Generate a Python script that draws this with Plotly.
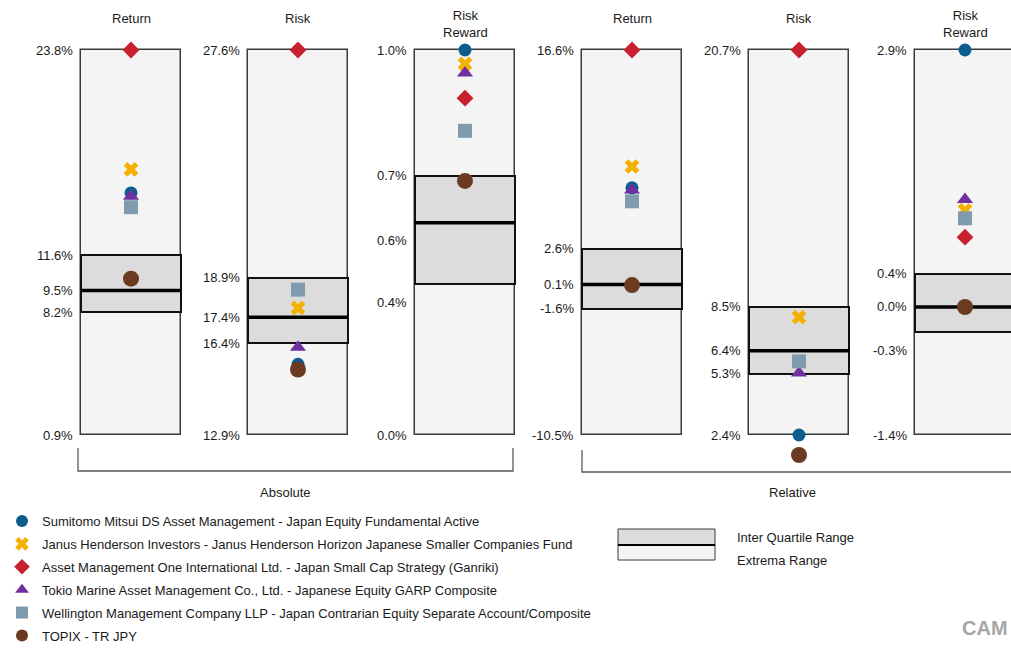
import plotly.graph_objects as go

# ---------------- data ----------------
group_names = ["Absolute", "Relative"]
panel_titles = ["Return", "Risk", "Risk<br>Reward", "Return", "Risk", "Risk<br>Reward"]

box_max = [23.8, 27.6, 1.0, 16.6, 20.7, 2.9]
box_q3 = [11.6, 18.9, 0.673, 2.6, 8.5, 0.4]
box_med = [9.5, 17.4, 0.551, 0.1, 6.4, 0.03]
box_q1 = [8.2, 16.4, 0.392, -1.6, 5.3, -0.25]
box_min = [0.9, 12.9, 0.0, -10.5, 2.4, -1.4]

# tick labels per panel: max, q3, median, q1, min
tick_labels = [
    ["23.8%", "11.6%", "9.5%", "8.2%", "0.9%"],
    ["27.6%", "18.9%", "17.4%", "16.4%", "12.9%"],
    ["1.0%", "0.7%", "0.6%", "0.4%", "0.0%"],
    ["16.6%", "2.6%", "0.1%", "-1.6%", "-10.5%"],
    ["20.7%", "8.5%", "6.4%", "5.3%", "2.4%"],
    ["2.9%", "0.4%", "0.0%", "-0.3%", "-1.4%"],
]

series_names = [
    "Sumitomo Mitsui DS Asset Management - Japan Equity Fundamental Active",
    "Janus Henderson Investors - Janus Henderson Horizon Japanese Smaller Companies Fund",
    "Asset Management One International Ltd. - Japan Small Cap Strategy (Ganriki)",
    "Tokio Marine Asset Management Co., Ltd. - Japanese Equity GARP Composite",
    "Wellington Management Company LLP - Japan Contrarian Equity Separate Account/Composite",
    "TOPIX - TR JPY",
]
sumitomo = [15.3, 15.6, 1.0, 6.9, 2.4, 2.9]
janus = [16.7, 17.75, 0.964, 8.4, 8.0, 1.11]
am_one = [23.8, 27.6, 0.875, 16.6, 20.7, 0.81]
tokio = [15.1, 16.25, 0.94, 6.75, 5.35, 1.23]
wellington = [14.45, 18.45, 0.79, 5.95, 5.9, 1.02]
topix = [10.2, 15.4, 0.66, 0.05, 1.45, 0.03]
series_values = [sumitomo, janus, am_one, tokio, wellington, topix]

# ---------------- styles ----------------
series_styles = [
    dict(symbol="circle", color="#0B5D8F", size=13),
    dict(symbol="x", color="#F5B100", size=13),
    dict(symbol="diamond", color="#C8202F", size=13),
    dict(symbol="triangle-up", color="#7030A0", size=14),
    dict(symbol="square", color="#7F9BAD", size=14),
    dict(symbol="circle", color="#6B3A20", size=16),
]
# vertical nudges (px) for tick labels that sit away from their line
label_shift = [
    [0, 0, 0, 0, 0],
    [0, 0, 0, 0, 0],
    [0, 0, 18, 18, 0],
    [0, 0, 0, 0, 0],
    [0, 0, 0, 0, 0],
    [0, 0, 0, 18, 0],
]

W, H = 1011, 648
FONT = "Liberation Sans, Arial, sans-serif"
TXT = "#1a1a1a"
BOX_TOP, BOX_BOT = 50, 435
DOM_TOP, DOM_BOT = 38, 468
box_lefts = [81, 248, 415, 582, 749, 915]
BOX_W = 100
PAD = 2


def px(p):
    return p / W


def py(p):
    return 1 - p / H


fig = go.Figure()
layout_axes = {}
annotations = []
shapes = []


def label(x, y, text, xanchor="center", size=13, color=TXT, yref="paper", yshift=0):
    return dict(x=x, xref="paper", xanchor=xanchor, y=y, yref=yref, yanchor="middle",
                yshift=yshift, text=text, showarrow=False,
                font=dict(size=size, color=color, family=FONT))


for i in range(6):
    n = i + 1
    xa = "x" if n == 1 else f"x{n}"
    ya = "y" if n == 1 else f"y{n}"
    left = box_lefts[i]
    d0 = left - PAD
    d1 = min(left + BOX_W + PAD, W)
    lo = -0.5 - PAD / BOX_W
    hi = lo + (d1 - d0) / BOX_W
    u = (box_max[i] - box_min[i]) / (BOX_BOT - BOX_TOP)
    yr = [box_min[i] - (DOM_BOT - BOX_BOT) * u, box_max[i] + (BOX_TOP - DOM_TOP) * u]
    layout_axes[f"xaxis{'' if n == 1 else n}"] = dict(
        domain=[px(d0), px(d1)], range=[lo, hi], anchor=ya, visible=False, fixedrange=True)
    layout_axes[f"yaxis{'' if n == 1 else n}"] = dict(
        domain=[py(DOM_BOT), py(DOM_TOP)], range=yr, anchor=xa, visible=False, fixedrange=True)

    # extrema range
    fig.add_trace(go.Bar(x=[0], y=[box_max[i] - box_min[i]], base=[box_min[i]], width=[1],
                         marker=dict(color="#F4F4F4", line=dict(color="#3A3A3A", width=1.5)),
                         xaxis=xa, yaxis=ya, showlegend=False, hoverinfo="skip"))
    # inter quartile range
    fig.add_trace(go.Bar(x=[0], y=[box_q3[i] - box_q1[i]], base=[box_q1[i]], width=[1],
                         marker=dict(color="#DCDCDC", line=dict(color="#111111", width=2)),
                         xaxis=xa, yaxis=ya, showlegend=False, hoverinfo="skip"))
    # median
    fig.add_trace(go.Scatter(x=[-0.5, 0.5], y=[box_med[i], box_med[i]], mode="lines",
                             line=dict(color="#000000", width=3.5),
                             xaxis=xa, yaxis=ya, showlegend=False, hoverinfo="skip"))
    # series markers
    for s, name in enumerate(series_names):
        st = series_styles[s]
        fig.add_trace(go.Scatter(
            x=[0], y=[series_values[s][i]], mode="markers", name=name,
            legendgroup=f"g{s}", showlegend=(i == 0), cliponaxis=False,
            marker=dict(symbol=st["symbol"], color=st["color"], size=st["size"],
                        line=dict(width=0)),
            xaxis=xa, yaxis=ya))

    # tick labels
    vals = [box_max[i], box_q3[i], box_med[i], box_q1[i], box_min[i]]
    for v, t, sh in zip(vals, tick_labels[i], label_shift[i]):
        annotations.append(label(px(left - 6), v, t, xanchor="right", yref=ya, yshift=-sh))
    # panel title
    two = "<br>" in panel_titles[i]
    annotations.append(label(px(left + BOX_W / 2), py(24 if two else 18), panel_titles[i]))

# group brackets
bracket_col = "#5a5a5a"
shapes.append(dict(type="path", xref="paper", yref="paper",
                   path=f"M {px(78)},{py(448)} L {px(78)},{py(471)} L {px(513)},{py(471)} L {px(513)},{py(448)}",
                   line=dict(color=bracket_col, width=1.3)))
shapes.append(dict(type="path", xref="paper", yref="paper",
                   path=f"M {px(582)},{py(450)} L {px(582)},{py(472)} L {px(1011)},{py(472)}",
                   line=dict(color=bracket_col, width=1.3)))
annotations.append(label(px(285), py(492), group_names[0]))
annotations.append(label(px(792), py(492), group_names[1]))

# range legend
shapes.append(dict(type="rect", xref="paper", yref="paper", x0=px(618), x1=px(715),
                   y0=py(545), y1=py(529), fillcolor="#DCDCDC", line=dict(color="#3A3A3A", width=1)))
shapes.append(dict(type="rect", xref="paper", yref="paper", x0=px(618), x1=px(715),
                   y0=py(560), y1=py(545), fillcolor="#F4F4F4", line=dict(color="#3A3A3A", width=1)))
shapes.append(dict(type="line", xref="paper", yref="paper", x0=px(618), x1=px(715),
                   y0=py(545), y1=py(545), line=dict(color="#000000", width=2)))
annotations.append(label(px(735), py(537), "Inter Quartile Range", xanchor="left"))
annotations.append(label(px(735), py(560), "Extrema Range", xanchor="left"))
annotations.append(label(px(960), py(628), "<b>CAM</b>", xanchor="left", size=20, color="#A6A6A6"))

fig.update_layout(
    width=W, height=H, autosize=False,
    margin=dict(l=0, r=0, t=0, b=0, autoexpand=False),
    paper_bgcolor="white", plot_bgcolor="rgba(0,0,0,0)",
    barmode="overlay", bargap=0,
    showlegend=True,
    legend=dict(xref="container", yref="container", x=px(2), y=py(506),
                xanchor="left", yanchor="top",
                traceorder="grouped", tracegroupgap=3, itemsizing="constant",
                bgcolor="rgba(0,0,0,0)", font=dict(size=13, color=TXT, family=FONT)),
    annotations=annotations, shapes=shapes,
    font=dict(family=FONT, color=TXT),
    **layout_axes,
)

fig.write_html("out.html", config={"displayModeBar": False},
               post_script="document.body.style.margin='0';document.body.style.overflow='hidden';")
